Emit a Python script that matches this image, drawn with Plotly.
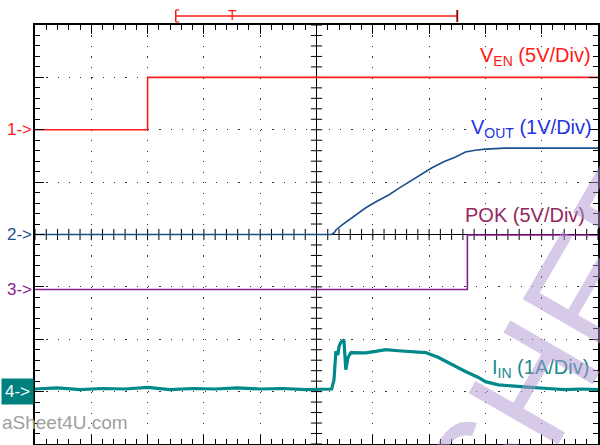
import numpy as np
import plotly.graph_objects as go

# ---- data (time in screen divisions from centre) ----
ven_t = [-5.0, -3.0, -3.0, 5.0]
ven_v = [0.0, 0.0, 5.0, 5.0]          # V, 5 V/div

vout_t = [-5.0, 0.27, 0.32, 0.345, 0.45, 0.6, 0.876, 1.08, 1.283, 1.46, 1.637, 1.85,
          2.044, 2.26, 2.47, 2.646, 2.82, 3.0, 3.35, 5.0]
vout_v = [0.0, 0.0, 0.04, 0.086, 0.18, 0.3, 0.51, 0.64, 0.754, 0.88, 1.0, 1.14,
          1.27, 1.39, 1.48, 1.575, 1.61, 1.63, 1.65, 1.65]   # V, 1 V/div

pok_t = [-5.0, 2.68, 2.68, 5.0]
pok_v = [0.0, 0.0, 5.2, 5.2]          # V, 5 V/div

iin_t = [-5.0, -4.6, -4.2, -3.8, -3.4, -3.0, -2.6, -2.2, -1.8, -1.4, -1.0, -0.6, -0.2, 0.27,
         0.31, 0.345, 0.38, 0.4, 0.43, 0.487, 0.52, 0.56, 0.611, 0.876, 1.05, 1.23, 1.45,
         1.637, 1.8, 1.938, 2.168, 2.398, 2.646, 2.876, 3.0, 3.23, 3.5, 3.81, 4.1, 4.41, 4.7, 5.0]
iin_a = [0.05, 0.07, 0.04, 0.06, 0.05, 0.08, 0.04, 0.06, 0.05, 0.07, 0.05, 0.06, 0.04, 0.05,
         0.22, 0.77, 0.70, 0.86, 0.94, 0.99, 0.42, 0.65, 0.746, 0.74, 0.77, 0.80, 0.78,
         0.77, 0.76, 0.745, 0.65, 0.52, 0.385, 0.27, 0.19, 0.13, 0.10, 0.08, 0.06, 0.04, 0.05, 0.04]  # A, 1 A/div

ch = {
    "ven": dict(scale=5.0, offset=2.0, color="#ff1a1a"),
    "vout": dict(scale=1.0, offset=0.0, color="#1c4f8c"),
    "pok": dict(scale=5.0, offset=-1.05, color="#8a1a8e"),
    "iin": dict(scale=1.0, offset=-3.0, color="#00898a"),
}

def to_div(vals, c):
    return [c["offset"] + v / c["scale"] for v in vals]

FONT = "Liberation Sans, Arial, sans-serif"
fig = go.Figure()

# centre cross ticks
tx = np.round(np.arange(-5, 5.001, 0.2), 3)
ty = np.round(np.arange(-4, 4.001, 0.2), 3)
fig.add_trace(go.Scatter(x=tx, y=np.zeros_like(tx), mode="markers", hoverinfo="skip",
                         marker=dict(symbol="line-ns", size=8, line=dict(width=1, color="black"))))
fig.add_trace(go.Scatter(x=np.zeros_like(ty), y=ty, mode="markers", hoverinfo="skip",
                         marker=dict(symbol="line-ew", size=8, line=dict(width=1, color="black"))))

fig.add_trace(go.Scatter(x=iin_t, y=to_div(iin_a, ch["iin"]), mode="lines",
                         line=dict(color=ch["iin"]["color"], width=3.2)))
fig.add_trace(go.Scatter(x=pok_t, y=to_div(pok_v, ch["pok"]), mode="lines",
                         line=dict(color=ch["pok"]["color"], width=1.6)))
fig.add_trace(go.Scatter(x=vout_t, y=to_div(vout_v, ch["vout"]), mode="lines",
                         line=dict(color=ch["vout"]["color"], width=1.6)))
fig.add_trace(go.Scatter(x=ven_t, y=to_div(ven_v, ch["ven"]), mode="lines",
                         line=dict(color=ch["ven"]["color"], width=1.6)))

axis_common = dict(showline=True, linecolor="black", linewidth=2, mirror="ticks",
                   ticks="inside", ticklen=9, tickwidth=1.2, tickcolor="black",
                   dtick=1, tick0=0, showticklabels=False, showgrid=True,
                   gridcolor="#333333", gridwidth=1,
                   zeroline=True, zerolinecolor="black", zerolinewidth=1.2,
                   minor=dict(dtick=0.2, ticks="inside", ticklen=5, tickcolor="black", tickwidth=1, showgrid=False),
                   fixedrange=True)
fig.update_xaxes(range=[-5, 5], griddash="1.2px,9.275px", **axis_common)
fig.update_yaxes(range=[-4, 4], griddash="1.2px,10.1px", **axis_common)

ann = []
def lab(text, x, y, color):
    ann.append(dict(text=text, x=x, y=y, xref="x", yref="y", xanchor="right", yanchor="middle",
                    showarrow=False, font=dict(family=FONT, size=20, color=color)))
lab("V<sub>EN</sub> (5V/Div)", 4.91, 3.39, "#ff1a1a")
lab("V<sub>OUT</sub> (1V/Div)", 4.93, 2.03, "#1f35e0")
lab("POK (5V/Div)", 4.8, 0.37, "#93285f")
lab("I<sub>IN</sub> (1A/Div)", 4.88, -2.55, "#1a8a8a")

def marker(text, y, color, bg=None):
    d = dict(text=text, x=-5, y=y, xref="x", yref="y", xanchor="right", yanchor="middle",
             xshift=-1, showarrow=False, font=dict(family=FONT, size=17, color=color))
    if bg:
        d.update(bgcolor=bg, borderpad=3)
    ann.append(d)
marker("1->", ch["ven"]["offset"], "#ff1a1a")
marker("2->", ch["vout"]["offset"], "#1c4f8c")
marker("3->", ch["pok"]["offset"], "#8a1a8e")
marker("4->", ch["iin"]["offset"], "white", bg="#00807f")

ann.append(dict(text="T", x=-1.5, y=1.024, xref="x", yref="paper", showarrow=False,
                font=dict(family=FONT, size=14, color="#ff1a1a"), yanchor="middle"))
ann.append(dict(text="aSheet4U.com", x=-0.062, y=0.052, xref="paper", yref="paper",
                xanchor="left", yanchor="middle", showarrow=False,
                font=dict(family=FONT, size=19, color="#a0a0a0")))
ann.append(dict(text="SHEET", x=0.972, y=0.345, xref="paper", yref="paper",
                xanchor="center", yanchor="middle", showarrow=False, textangle=-60,
                font=dict(family=FONT, size=150, color="rgba(175,150,210,0.5)")))

shapes = [
    dict(type="line", xref="x", yref="paper", x0=-2.5, x1=2.5, y0=1.0215, y1=1.0215,
         line=dict(color="#ff1a1a", width=1.5)),
    dict(type="line", xref="x", yref="paper", x0=-2.5, x1=-2.5, y0=1.007, y1=1.036,
         line=dict(color="#ff1a1a", width=1.5)),
    dict(type="line", xref="x", yref="paper", x0=-2.5, x1=-2.44, y0=1.036, y1=1.036,
         line=dict(color="#ff1a1a", width=1.2)),
    dict(type="line", xref="x", yref="paper", x0=-2.5, x1=-2.44, y0=1.007, y1=1.007,
         line=dict(color="#ff1a1a", width=1.2)),
    dict(type="line", xref="x", yref="paper", x0=2.5, x1=2.5, y0=1.007, y1=1.036,
         line=dict(color="#991010", width=2)),
]

fig.update_layout(width=600, height=445, margin=dict(l=35, r=0, t=25, b=1),
                  paper_bgcolor="white", plot_bgcolor="white", showlegend=False,
                  annotations=ann, shapes=shapes)
fig.write_html("out.html", config={"displayModeBar": False},
               post_script="document.body.style.margin='0';document.body.style.overflow='hidden';")
